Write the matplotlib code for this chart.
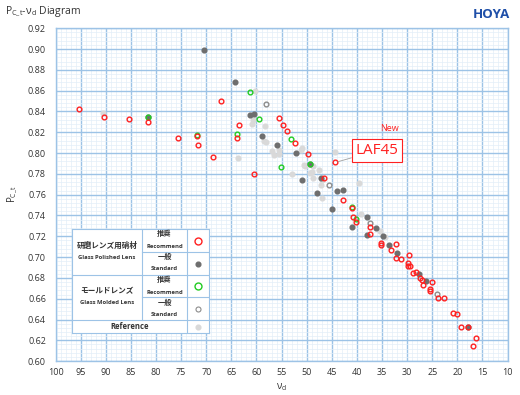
import numpy as np
import matplotlib
matplotlib.use("Agg")
import matplotlib.pyplot as plt
from matplotlib.ticker import MultipleLocator, FormatStrFormatter

plt.rcParams['font.family'] = ['Open Sans', 'Noto Sans CJK JP', 'DejaVu Sans']
plt.rcParams['mathtext.fontset'] = 'custom'
plt.rcParams['mathtext.rm'] = 'Open Sans'
plt.rcParams['mathtext.it'] = 'Open Sans'

# --- data (vd, Pc_t) ---
# reference glasses (light gray dots)
ref_vd = [90.5, 63.7, 60.3, 60.7, 60.8, 58.3, 58.6, 58.1, 56.9, 56.6, 55.5, 55.5,
          51.0, 51.1, 53.0, 50.3, 50.5, 48.7, 48.8, 47.5, 47.2, 47.0, 46.9,
          44.3, 39.6, 39.2, 35.5, 34.4, 49.3, 48.9]
ref_pc = [0.839, 0.7956, 0.8597, 0.832, 0.828, 0.826, 0.812, 0.811, 0.802, 0.798, 0.803, 0.799,
          0.8046, 0.803, 0.780, 0.7876, 0.7883, 0.7876, 0.7758, 0.7835, 0.769, 0.757, 0.774,
          0.801, 0.7715, 0.741, 0.7254, 0.719, 0.7805, 0.782]

# polished lens, standard (dark gray dots)
pol_std_vd = [70.5, 64.2, 61.3, 60.4, 59.0, 56.0, 52.1, 50.9, 47.2, 47.9, 43.9, 42.8,
              44.9, 37.9, 41.0, 36.2, 37.9, 34.8, 33.7, 32.0, 27.6, 26.3, 17.8, 49.3, 81.7]
pol_std_pc = [0.899, 0.868, 0.8366, 0.838, 0.8164, 0.808, 0.8004, 0.7744, 0.776, 0.7616, 0.7638, 0.7642,
              0.746, 0.7386, 0.729, 0.728, 0.7209, 0.7203, 0.712, 0.7036, 0.6837, 0.6773, 0.6328, 0.7895, 0.835]

# molded lens, standard (gray rings)
mol_std_vd = [58.1, 45.5, 37.4, 24.0]
mol_std_pc = [0.847, 0.7696, 0.733, 0.6642]

# molded lens, recommend (green rings)
mol_rec_vd = [61.3, 59.5, 63.9, 55.2, 53.2, 49.3, 40.9, 40.1, 81.7, 71.8]
mol_rec_pc = [0.859, 0.8328, 0.8187, 0.7867, 0.814, 0.7895, 0.748, 0.7364, 0.835, 0.8175]

# polished lens, recommend (red rings)
pol_rec_vd = [95.3, 90.4, 85.4, 81.7, 67.1, 75.6, 71.9, 71.7, 68.7, 63.5, 63.9, 60.5,
              55.5, 54.7, 54.0, 52.3, 49.7, 44.3, 46.6, 42.7, 40.9, 40.8, 40.1, 37.3,
              37.4, 35.2, 35.2, 32.2, 33.2, 31.3, 29.7, 32.2, 29.9, 29.9, 29.4, 28.9,
              28.3, 27.5, 27.0, 26.8, 25.0, 25.4, 25.4, 23.8, 22.6, 20.9, 20.0, 19.2,
              17.8, 16.3, 16.9]
pol_rec_pc = [0.842, 0.835, 0.833, 0.830, 0.850, 0.815, 0.8165, 0.808, 0.796, 0.827, 0.815, 0.780,
              0.8335, 0.827, 0.821, 0.810, 0.799, 0.791, 0.7765, 0.755, 0.7475, 0.739, 0.734, 0.7287,
              0.7225, 0.7138, 0.7116, 0.7123, 0.7065, 0.698, 0.702, 0.699, 0.6947, 0.6916, 0.6916, 0.6844,
              0.6854, 0.680, 0.678, 0.6732, 0.6758, 0.6696, 0.6671, 0.661, 0.6604, 0.6465, 0.645, 0.6325,
              0.6328, 0.622, 0.6142]

new_label = "LAF45"
new_vd, new_pc = 44.3, 0.791

RED = '#FF2020'
GREEN = '#22CC22'
DGRAY = '#6E6E6E'
OGRAY = '#8C8C8C'
LGRAY = '#D9D9D9'
GRID = '#9DC3E6'
MINOR = '#E3EEF8'

W, H = 520, 395
fig = plt.figure(figsize=(W / 100, H / 100), dpi=100)
ax = fig.add_axes([55.6 / W, 1 - 361.1 / H, (507.6 - 55.6) / W, (361.1 - 28.3) / H])

ax.set_xlim(100, 10)
ax.set_ylim(0.60, 0.92)
ax.xaxis.set_major_locator(MultipleLocator(5))
ax.xaxis.set_minor_locator(MultipleLocator(1))
ax.yaxis.set_major_locator(MultipleLocator(0.02))
ax.yaxis.set_minor_locator(MultipleLocator(0.004))
ax.yaxis.set_major_formatter(FormatStrFormatter('%.2f'))
ax.grid(which='minor', color=MINOR, lw=0.5, zorder=0)
ax.grid(which='major', color=GRID, lw=1.0, zorder=0.5)
ax.set_axisbelow(True)
for s in ax.spines.values():
    s.set_color(GRID)
    s.set_linewidth(1.0)
ax.tick_params(which='both', length=0, labelsize=6.5, colors='#333333')
ax.tick_params(axis='y', pad=7)
ax.tick_params(axis='x', pad=5)

ms = 3.4
ax.plot(ref_vd, ref_pc, 'o', ms=ms, color=LGRAY, mec=LGRAY, zorder=2)
ax.plot(pol_std_vd, pol_std_pc, 'o', ms=ms, color=DGRAY, mec=DGRAY, zorder=3)
ax.plot(mol_std_vd, mol_std_pc, 'o', ms=ms, mfc='none', mec=OGRAY, mew=1.0, zorder=4)
ax.plot(mol_rec_vd, mol_rec_pc, 'o', ms=ms, mfc='none', mec=GREEN, mew=1.0, zorder=5)
ax.plot(pol_rec_vd, pol_rec_pc, 'o', ms=ms, mfc='none', mec=RED, mew=1.0, zorder=6)

ax.annotate(new_label, xy=(new_vd, new_pc), xytext=(36.0, 0.8025),
            fontsize=11, color=RED, ha='center', va='center', zorder=8,
            bbox=dict(boxstyle='square,pad=0.25', fc='white', ec=RED, lw=0.8),
            arrowprops=dict(arrowstyle='-', color='#A0A0A0', lw=0.6, shrinkA=0, shrinkB=2))
ax.text(33.6, 0.824, "New", fontsize=6.5, color=RED, ha='center', va='center', zorder=8)

ax.set_xlabel(r'ν$_\mathrm{d}$', fontsize=7, color='#333333', labelpad=3)
ax.set_ylabel(r'P$_\mathrm{C\_t}$', fontsize=7, color='#333333', labelpad=6)

fig.text(5 / W, 1 - 12 / H, r'P$_\mathrm{C\_t}$-ν$_\mathrm{d}$ Diagram', fontsize=7.5,
         color='#333333', va='center', ha='left')
fig.text(510 / W, 1 - 14 / H, 'HOYA', fontsize=9.5, fontweight='bold', color='#1F4FA8',
         va='center', ha='right')

# legend table, drawn in pixel coordinates of its own axes
lx0, lx1, ly0, ly1 = 71.7, 209.0, 229.0, 333.3
lg = fig.add_axes([lx0 / W, 1 - ly1 / H, (lx1 - lx0) / W, (ly1 - ly0) / H])
lg.set_xlim(lx0, lx1)
lg.set_ylim(ly1, ly0)
lg.set_xticks([])
lg.set_yticks([])
lg.set_facecolor('white')
for s in lg.spines.values():
    s.set_color(GRID)
    s.set_linewidth(0.8)
c1, c2 = 142.3, 186.7
rows = [229.0, 252.3, 275.0, 297.3, 320.0, 333.3]
lc = dict(color=GRID, lw=0.8)
lg.plot([c2, c2], [ly0, ly1], **lc)
lg.plot([c1, c1], [ly0, rows[4]], **lc)
lg.plot([lx0, lx1], [rows[2], rows[2]], **lc)
lg.plot([lx0, lx1], [rows[4], rows[4]], **lc)
lg.plot([c1, lx1], [rows[1], rows[1]], **lc)
lg.plot([c1, lx1], [rows[3], rows[3]], **lc)

tk = dict(ha='center', va='center', color='#333333')
mid1 = (lx0 + c1) / 2
mid2 = (c1 + c2) / 2
lg.text(mid1, 245.7, '研磨レンズ用硝材', fontsize=5.5, fontweight='bold', **tk)
lg.text(mid1, 257.3, 'Glass Polished Lens', fontsize=4.2, fontweight='bold', **tk)
lg.text(mid1, 290.7, 'モールドレンズ', fontsize=5.5, fontweight='bold', **tk)
lg.text(mid1, 302.7, 'Glass Molded Lens', fontsize=4.2, fontweight='bold', **tk)
for top in (rows[0], rows[2]):
    lg.text(mid2, top + 5.3, '推奨', fontsize=5.2, fontweight='bold', **tk)
    lg.text(mid2, top + 17.0, 'Recommend', fontsize=4.2, fontweight='bold', **tk)
    lg.text(mid2, top + 28.3, '一般', fontsize=5.2, fontweight='bold', **tk)
    lg.text(mid2, top + 40.0, 'Standard', fontsize=4.2, fontweight='bold', **tk)
lg.text((lx0 + c2) / 2, 326.7, 'Reference', fontsize=5.5, fontweight='bold', **tk)

mx = (c2 + lx1) / 2
lg.plot(mx, 240.7, 'o', ms=5, mfc='none', mec=RED, mew=1.0)
lg.plot(mx, 263.7, 'o', ms=3.4, color=DGRAY)
lg.plot(mx, 286.0, 'o', ms=5, mfc='none', mec=GREEN, mew=1.0)
lg.plot(mx, 308.7, 'o', ms=3.6, mfc='none', mec=OGRAY, mew=0.8)
lg.plot(mx, 326.7, 'o', ms=3.4, color=LGRAY)

fig.savefig('out.png', dpi=100)
